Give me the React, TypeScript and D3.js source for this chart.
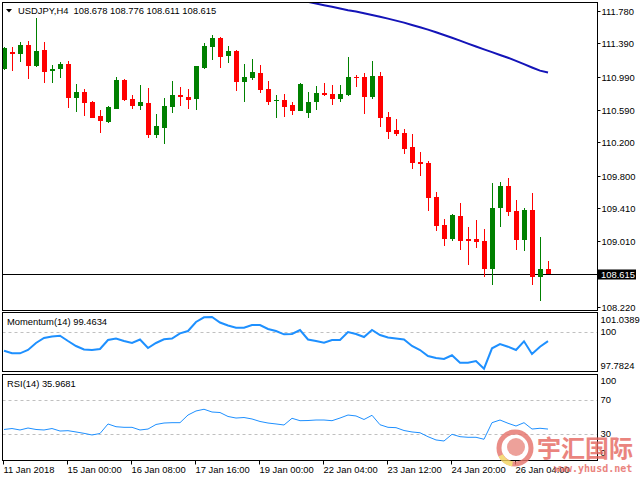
import React from 'react';
import * as d3 from 'd3';

// USDJPY H4 candles
const opens = [
  111.078, 111.290, 111.259, 111.371, 111.122, 111.311, 111.054, 111.086, 111.142, 110.737,
  110.809, 110.685, 110.520, 110.444, 110.604, 110.950, 110.725, 110.640, 110.673, 110.288,
  110.376, 110.628, 110.767, 110.745, 110.717, 111.094, 111.350, 111.455, 111.242, 111.302,
  110.929, 110.974, 111.034, 110.842, 110.693, 110.709, 110.645, 110.580, 110.556, 110.685,
  110.790, 110.781, 110.717, 110.767, 110.990, 110.982, 110.745, 110.994, 110.501, 110.348,
  110.308, 110.140, 109.963, 109.955, 109.545, 109.205, 109.033, 109.313, 109.033, 109.033,
  109.016, 108.679, 109.406, 109.674, 109.377, 109.024, 109.385, 108.583, 108.678,
];
const highs = [
  111.350, 111.343, 111.411, 111.419, 111.692, 111.411, 111.130, 111.166, 111.182, 110.898,
  110.838, 110.697, 110.589, 110.637, 110.982, 110.956, 110.769, 110.889, 110.857, 110.540,
  110.730, 110.941, 110.862, 110.842, 111.124, 111.391, 111.495, 111.471, 111.359, 111.311,
  111.139, 111.199, 111.130, 110.938, 110.767, 110.781, 110.689, 110.910, 110.805, 110.877,
  110.910, 110.886, 110.889, 111.223, 111.006, 111.030, 111.178, 111.050, 110.561, 110.480,
  110.357, 110.296, 110.083, 109.975, 109.605, 109.277, 109.337, 109.473, 109.177, 109.265,
  109.153, 109.707, 109.726, 109.767, 109.506, 109.406, 109.594, 109.064, 108.776,
];
const lows = [
  111.070, 111.062, 111.170, 110.962, 111.110, 110.910, 110.917, 110.977, 110.616, 110.568,
  110.516, 110.489, 110.315, 110.429, 110.597, 110.697, 110.597, 110.589, 110.248, 110.248,
  110.180, 110.556, 110.637, 110.601, 110.589, 111.086, 111.190, 111.094, 111.151, 110.821,
  110.689, 110.950, 110.790, 110.649, 110.489, 110.508, 110.529, 110.573, 110.496, 110.589,
  110.761, 110.649, 110.689, 110.757, 110.862, 110.540, 110.725, 110.380, 110.243, 110.276,
  110.056, 109.875, 109.798, 109.377, 109.136, 108.952, 109.016, 108.904, 108.723, 108.924,
  108.583, 108.487, 109.184, 109.313, 108.904, 108.896, 108.483, 108.290, 108.611,
];
const closes = [
  111.331, 111.259, 111.371, 111.122, 111.299, 111.050, 111.082, 111.139, 110.737, 110.805,
  110.677, 110.496, 110.460, 110.628, 110.950, 110.709, 110.637, 110.685, 110.288, 110.396,
  110.637, 110.769, 110.749, 110.713, 111.118, 111.359, 111.455, 111.230, 111.299, 110.929,
  110.986, 111.046, 110.833, 110.690, 110.713, 110.628, 110.580, 110.902, 110.685, 110.790,
  110.769, 110.721, 110.778, 110.982, 110.977, 110.749, 110.994, 110.489, 110.327, 110.300,
  110.116, 109.955, 109.939, 109.533, 109.193, 109.040, 109.325, 109.016, 109.016, 109.004,
  108.679, 109.406, 109.674, 109.365, 109.024, 109.385, 108.583, 108.675, 108.615,
];

// moving average (blue), only the tail is inside the window
const maFirstBar = 36;
const maValues = [
  111.935, 111.912, 111.890, 111.870, 111.850, 111.830, 111.810, 111.790, 111.773, 111.752,
  111.733, 111.711, 111.688, 111.664, 111.640, 111.612, 111.585, 111.556, 111.525, 111.491,
  111.458, 111.424, 111.387, 111.352, 111.318, 111.285, 111.250, 111.217, 111.180, 111.140,
  111.100, 111.062, 111.040,
];

const momentum = [
  98.922, 98.776, 98.776, 98.961, 99.355, 99.635, 99.719, 99.764, 99.467, 99.186,
  98.990, 98.961, 99.018, 99.523, 99.607, 99.467, 99.355, 99.551, 99.074, 99.355,
  99.562, 99.607, 99.899, 100.028, 100.534, 100.798, 100.814, 100.506, 100.337, 100.214,
  100.214, 100.365, 100.365, 100.141, 100.028, 99.843, 99.860, 100.084, 99.551, 99.467,
  99.371, 99.523, 99.523, 99.972, 99.860, 99.691, 100.084, 99.804, 99.663, 99.607,
  99.551, 99.186, 98.961, 98.625, 98.512, 98.456, 98.664, 98.248, 98.248, 98.344,
  97.912, 99.057, 99.298, 99.147, 98.961, 99.450, 98.737, 99.147, 99.4634,
];

const rsi = [
  35.5, 36.6, 34.9, 37.2, 35.5, 34.9, 36.6, 33.7, 34.1, 32.6,
  31.0, 29.1, 30.8, 41.9, 38.7, 38.0, 38.0, 34.9, 36.0, 41.3,
  43.0, 43.4, 43.4, 52.3, 57.0, 59.0, 55.8, 55.2, 50.6, 48.8,
  49.4, 47.7, 44.8, 43.0, 41.9, 40.7, 48.5, 45.7, 45.9, 46.5,
  46.5, 45.7, 48.8, 52.3, 51.2, 47.1, 52.0, 41.0, 38.0, 37.6,
  34.3, 32.6, 31.7, 27.1, 23.3, 22.1, 29.9, 27.1, 26.4, 26.4,
  24.1, 43.4, 46.5, 42.7, 39.5, 43.4, 36.0, 36.9, 35.9681,
];

const priceTicks = [111.78, 111.39, 110.99, 110.59, 110.2, 109.8, 109.41, 109.01, 108.22];
const timeLabels = [
  '11 Jan 2018', '15 Jan 00:00', '16 Jan 08:00', '17 Jan 16:00', '19 Jan 00:00',
  '22 Jan 04:00', '23 Jan 12:00', '24 Jan 20:00', '26 Jan 04:00',
];
const barsPerLabel = 8;
const momentumRange = [97.7824, 101.0389];
const rsiLevels = [70, 30];

const FONT = '"Liberation Sans", Arial, sans-serif';
const BULL = '#008000';
const BEAR = '#ff0000';
const IND = '#1e90ff';

const App: React.FC = () => {
  const left = 2.5, right = 597.5;
  const main = { top: 2.5, bottom: 310.5 };
  const mom = { top: 312.5, bottom: 371.5 };
  const rs = { top: 374.5, bottom: 460.5 };

  const n = closes.length;
  const x = d3.scaleLinear().domain([0, n - 1]).range([4, 548]);
  const y = d3.scaleLinear().domain([108.22, 111.78]).range([306.8, 11]);
  const yM = d3.scaleLinear().domain(momentumRange).range([371, 313]);
  const yR = d3.scaleLinear().domain([0, 100]).range([460, 374]);

  const lastClose = closes[n - 1];
  const header = `USDJPY,H4  ${opens[n - 1].toFixed(3)} ${highs[n - 1].toFixed(3)} ${lows[n - 1].toFixed(3)} ${lastClose.toFixed(3)}`;

  const maLine = d3.line<number>()
    .x((_, i) => x(i + maFirstBar))
    .y(d => y(d))(maValues) || '';
  const momLine = d3.line<number>()
    .x((_, i) => x(i))
    .y(d => yM(d))(momentum) || '';
  const rsiLine = d3.line<number>()
    .x((_, i) => x(i))
    .y(d => yR(d))(rsi) || '';

  const curY = Math.round(y(lastClose)) + 0.5;

  return (
    <svg width={640} height={480} style={{ position: 'fixed', left: 0, top: 0, background: '#fff' }}
      fontFamily={FONT} fontSize={9.4}>
      <defs>
        <clipPath id="mainClip"><rect x={left + 0.5} y={main.top + 0.5} width={right - left - 1} height={main.bottom - main.top - 1} /></clipPath>
        <clipPath id="momClip"><rect x={left + 0.5} y={mom.top + 0.5} width={right - left - 1} height={mom.bottom - mom.top - 1} /></clipPath>
        <clipPath id="rsiClip"><rect x={left + 0.5} y={rs.top + 0.5} width={right - left - 1} height={rs.bottom - rs.top - 1} /></clipPath>
      </defs>

      {/* main window */}
      <g clipPath="url(#mainClip)">
        <line x1={left} x2={right} y1={curY} y2={curY} stroke="#000" />
        <path d={maLine} fill="none" stroke="#1414b8" strokeWidth={2} />
        {closes.map((c, i) => {
          const cx = Math.round(x(i));
          const o = opens[i];
          const t = Math.round(Math.min(y(o), y(c)));
          const b = Math.round(Math.max(y(o), y(c)));
          const hi = Math.round(y(highs[i]));
          const lo = Math.round(y(lows[i]));
          const col = c > o ? BULL : BEAR;
          return (
            <g key={i} fill={col}>
              <rect x={cx} y={hi} width={1} height={Math.max(1, lo - hi)} />
              <rect x={cx - 2} y={t} width={5} height={Math.max(1, b - t)} />
            </g>
          );
        })}
      </g>
      <path d="M6,9 L12,9 L9,12.5 Z" fill="#000" />
      <text x={18} y={14} style={{ whiteSpace: 'pre' }}>{header}</text>

      {/* momentum window */}
      <g clipPath="url(#momClip)">
        <line x1={left} x2={right} y1={Math.round(yM(100)) + 0.5} y2={Math.round(yM(100)) + 0.5}
          stroke="#c0c0c0" strokeDasharray="3,3" />
        <path d={momLine} fill="none" stroke={IND} strokeWidth={2} />
      </g>
      <text x={7} y={325}>{`Momentum(14) ${momentum[n - 1].toFixed(4)}`}</text>

      {/* RSI window */}
      <g clipPath="url(#rsiClip)">
        {rsiLevels.map(l => (
          <line key={l} x1={left} x2={right} y1={Math.round(yR(l)) + 0.5} y2={Math.round(yR(l)) + 0.5}
            stroke="#c0c0c0" strokeDasharray="3,3" />
        ))}
        <path d={rsiLine} fill="none" stroke={IND} strokeWidth={1} />
      </g>
      <text x={7} y={387}>{`RSI(14) ${rsi[n - 1].toFixed(4)}`}</text>

      {/* frames */}
      <g fill="none" stroke="#000">
        <rect x={left} y={main.top} width={right - left} height={main.bottom - main.top} />
        <rect x={left} y={mom.top} width={right - left} height={mom.bottom - mom.top} />
        <rect x={left} y={rs.top} width={right - left} height={rs.bottom - rs.top} />
      </g>

      {/* price axis */}
      {priceTicks.map(p => {
        const ty = Math.round(y(p)) + 0.5;
        return (
          <g key={p}>
            <line x1={right} x2={right + 3} y1={ty} y2={ty} stroke="#000" />
            <text x={601.5} y={ty} dy="0.35em">{p.toFixed(3)}</text>
          </g>
        );
      })}
      <rect x={598} y={curY - 5} width={38} height={10} fill="#000" />
      <text x={601} y={curY} dy="0.35em" fill="#fff">{lastClose.toFixed(3)}</text>

      {/* indicator scales */}
      <text x={600.5} y={322.5}>{momentumRange[1].toFixed(4)}</text>
      <text x={600.5} y={yM(100)} dy="0.35em">100</text>
      <text x={600.5} y={368.5}>{momentumRange[0].toFixed(4)}</text>
      <text x={600.5} y={384}>100</text>
      {rsiLevels.map(l => (
        <text key={l} x={600.5} y={yR(l)} dy="0.35em">{l}</text>
      ))}
      <text x={600.5} y={456}>0</text>

      {/* time axis */}
      {timeLabels.map((t, k) => {
        const tx = Math.round(x(k * barsPerLabel)) - 0.5;
        return (
          <g key={t}>
            <line x1={tx} x2={tx} y1={rs.bottom} y2={rs.bottom + 4} stroke="#000" />
            <text x={tx} y={472.5}>{t}</text>
          </g>
        );
      })}

      {/* watermark */}
      <g opacity={0.8}>
        <circle cx={515} cy={448} r={16} fill="none" stroke="#e5716a" strokeWidth={5} />
        <path d={d3.arc()({ innerRadius: 13.5, outerRadius: 18.5, startAngle: Math.PI * 1.05, endAngle: Math.PI * 1.35 }) || ''}
          transform="translate(515,448)" fill="#f2d35c" />
        <circle cx={516} cy={447} r={9} fill="#e98a82" />
        <text x={537} y={457} fontSize={24} fontWeight="bold" fill="#e5665e"
          fontFamily='"Noto Sans CJK SC", sans-serif'>宇汇国际</text>
        <text x={554} y={472} fontSize={10} fontWeight="bold" fill="#e5665e"
          fontFamily='"DejaVu Sans Mono", monospace'>www.yhusd.net</text>
      </g>
    </svg>
  );
};

export default App;
